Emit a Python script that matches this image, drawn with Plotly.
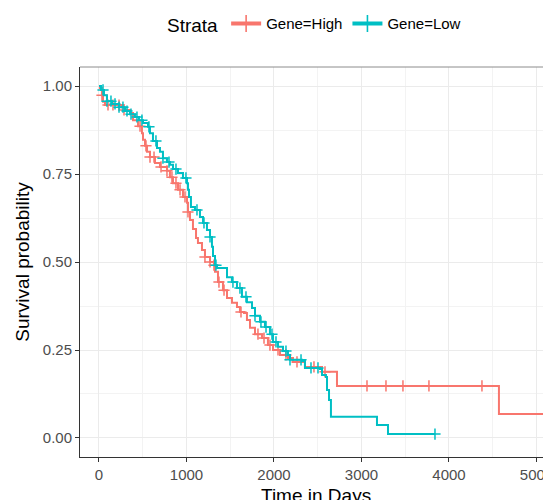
import numpy as np
import plotly.graph_objects as go

# ---- data ----
high_event_days = [11, 34, 46, 69, 263, 286, 354, 389, 446, 491, 503, 526, 549, 583, 640, 697, 777, 811, 846,
                   903, 960, 1006, 1017, 1040, 1074, 1109, 1131, 1177, 1211, 1269, 1314, 1326, 1360, 1417,
                   1463, 1520, 1577, 1611, 1657, 1691, 1726, 1783, 1863, 1931, 1989, 2069, 2160, 2217, 2354,
                   2549, 2720, 4571]
high_survival = [0.994, 0.974, 0.955, 0.946, 0.940, 0.932, 0.923, 0.903, 0.886, 0.866, 0.847, 0.830, 0.813,
                 0.798, 0.781, 0.770, 0.759, 0.741, 0.724, 0.705, 0.685, 0.668, 0.642, 0.619, 0.594, 0.568,
                 0.554, 0.534, 0.514, 0.500, 0.491, 0.472, 0.443, 0.420, 0.398, 0.384, 0.372, 0.358, 0.355,
                 0.335, 0.313, 0.295, 0.284, 0.264, 0.250, 0.236, 0.227, 0.216, 0.202, 0.188, 0.148, 0.068]
high_censor_days = [34, 103, 160, 229, 286, 469, 537, 583, 629, 709, 777, 834, 880, 926, 983, 1017, 1211,
                    1269, 1314, 1371, 1429, 1623, 1817, 1886, 1954, 2046, 2137, 2263, 2457, 2583, 3063, 3280,
                    3474, 3771, 4377]
high_last_day = 5400

low_event_days = [23, 57, 91, 149, 229, 297, 354, 411, 457, 503, 560, 583, 617, 663, 697, 731, 777, 811, 846,
                  903, 960, 1006, 1017, 1029, 1051, 1097, 1154, 1189, 1234, 1269, 1291, 1303, 1326, 1349,
                  1463, 1520, 1577, 1634, 1691, 1749, 1783, 1840, 1897, 1954, 1989, 2046, 2103, 2160, 2183,
                  2320, 2354, 2526, 2549, 2594, 2606, 2629, 2651, 3177, 3303]
low_survival = [0.989, 0.974, 0.957, 0.949, 0.940, 0.929, 0.920, 0.912, 0.903, 0.895, 0.884, 0.866, 0.844,
                0.824, 0.813, 0.795, 0.784, 0.776, 0.764, 0.753, 0.739, 0.724, 0.705, 0.685, 0.656, 0.648,
                0.628, 0.611, 0.591, 0.571, 0.543, 0.517, 0.491, 0.483, 0.457, 0.443, 0.426, 0.401, 0.386,
                0.369, 0.347, 0.330, 0.315, 0.295, 0.273, 0.259, 0.247, 0.236, 0.222, 0.219, 0.199, 0.196,
                0.179, 0.173, 0.136, 0.108, 0.060, 0.037, 0.011]
low_censor_days = [46, 91, 137, 183, 229, 274, 320, 366, 434, 491, 571, 651, 731, 800, 880, 994, 1120, 1200,
                   1269, 1337, 1531, 1611, 1680, 1783, 1851, 1909, 1977, 2023, 2137, 2183, 2309, 2423, 2503,
                   3840]
low_last_day = 3840

strata_names = ["Gene=High", "Gene=Low"]
strata_colors = ["#F8766D", "#00BFC4"]
x_ticks = [0, 1000, 2000, 3000, 4000, 5000]
y_ticks = [0.0, 0.25, 0.5, 0.75, 1.0]
y_tick_labels = ["0.00", "0.25", "0.50", "0.75", "1.00"]
x_title = "Time in Days"
y_title = "Survival probability"

FONT = "Liberation Sans, Arial, sans-serif"


def step_curve(days, surv, last_day):
    t = np.concatenate([[0], days, [last_day]])
    s = np.concatenate([[1.0], surv, [surv[-1]]])
    return t, s


def surv_at(days, surv, query):
    t = np.concatenate([[0], days])
    s = np.concatenate([[1.0], surv])
    idx = np.searchsorted(t, query, side="right") - 1
    return s[idx]


fig = go.Figure()
groups = [
    (high_event_days, high_survival, high_censor_days, high_last_day),
    (low_event_days, low_survival, low_censor_days, low_last_day),
]
for (days, surv, cens, last), name, color in zip(groups, strata_names, strata_colors):
    d = np.array(days, float)
    s_ = np.array(surv, float)
    t, s = step_curve(d, s_, last)
    fig.add_trace(go.Scatter(
        x=t, y=s, mode="lines", line=dict(color=color, width=2, shape="hv"),
        name=name, legendgroup=name, showlegend=False, hoverinfo="skip"))
    cy = surv_at(d, s_, np.array(cens, float))
    fig.add_trace(go.Scatter(
        x=cens, y=cy, mode="markers",
        marker=dict(symbol="cross-thin", size=8, line=dict(color=color, width=1.5)),
        name=name, legendgroup=name, showlegend=False))
    # legend entry: line + cross glyph
    fig.add_trace(go.Scatter(
        x=[None], y=[None], mode="lines+markers",
        line=dict(color=color, width=4),
        marker=dict(symbol="cross-thin", size=12, line=dict(color=color, width=1.6)),
        name=name, legendgroup=name, showlegend=True))

axis_common = dict(
    showline=True, linecolor="#333333", linewidth=1,
    ticks="outside", ticklen=4, tickcolor="#333333", tickwidth=1,
    tickfont=dict(family=FONT, size=15, color="#4D4D4D"),
    showgrid=True, gridcolor="#EBEBEB", gridwidth=1,
    zeroline=False, automargin=False, ticklabeloverflow="allow",
)

fig.update_xaxes(
    range=[-217, 5166], tickvals=x_ticks, ticktext=[str(v) for v in x_ticks],
    minor=dict(dtick=500, tick0=0, showgrid=True, gridcolor="#F3F3F3", gridwidth=0.6, ticks=""),
    **axis_common)
fig.update_yaxes(
    range=[-0.054, 1.054], tickvals=y_ticks, ticktext=y_tick_labels,
    minor=dict(dtick=0.125, tick0=0, showgrid=True, gridcolor="#F3F3F3", gridwidth=0.6, ticks=""),
    title=dict(text=y_title, font=dict(family=FONT, size=19, color="black"), standoff=8),
    **axis_common)

fig.add_shape(type="line", xref="paper", yref="paper", x0=0, x1=1, y0=1, y1=1,
              line=dict(color="#8C8C8C", width=1))

# x-axis title sits partly below the visible window, as in the reference
fig.add_annotation(text=x_title, xref="paper", yref="paper", x=0.5, y=-0.066,
                   xanchor="center", yanchor="top", showarrow=False,
                   font=dict(family=FONT, size=19, color="black"))

# page body adds an 8px offset, so the figure is sized to the visible area
fig.update_layout(
    width=543, height=492,
    margin=dict(l=72, r=0, t=59, b=43, autoexpand=False),
    plot_bgcolor="white", paper_bgcolor="white",
    font=dict(family=FONT, color="black"),
    showlegend=True,
    legend=dict(
        orientation="h", x=0.5, xanchor="center",
        yref="container", y=0.966, yanchor="middle",
        title=dict(text="Strata", font=dict(family=FONT, size=19, color="black")),
        font=dict(family=FONT, size=15, color="black"),
        itemwidth=30, bgcolor="rgba(0,0,0,0)",
    ),
)

fig.write_html("out.html")
